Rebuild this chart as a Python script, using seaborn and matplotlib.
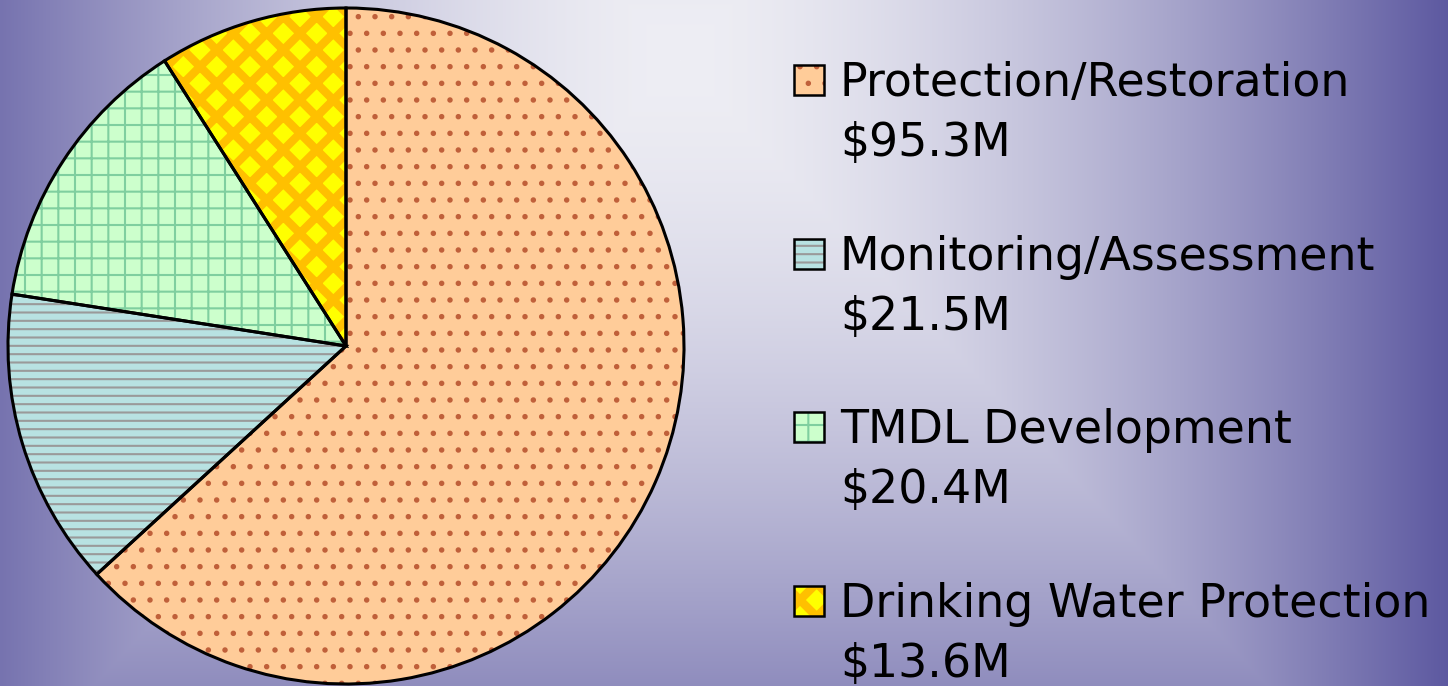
import numpy as np
import matplotlib
matplotlib.use('Agg')
import matplotlib.pyplot as plt
import seaborn as sns
from matplotlib.patches import Rectangle

# data
categories = ['Protection/Restoration', 'Monitoring/Assessment',
              'TMDL Development', 'Drinking Water Protection']
amounts = [95.3, 21.5, 20.4, 13.6]
amount_labels = ['$95.3M', '$21.5M', '$20.4M', '$13.6M']

# styling
fills = ['#ffcc99', '#b8e2e2', '#ccffcc', '#ffff00']
hatch_colors = ['#c0603a', '#9a9a9a', '#7fcf9f', '#ffc000']
hatches = ['.', '--', '+', 'x']

W, H = 1448, 686
sns.set_theme(style='white')
plt.rcParams['font.family'] = ['DejaVu Sans']
plt.rcParams['hatch.linewidth'] = 1.5

fig = plt.figure(figsize=(W / 100, H / 100), dpi=100)

# rectangular "from centre" background gradient
bg = fig.add_axes([0, 0, 1, 1])
bg.axis('off')
yy, xx = np.mgrid[0:H, 0:W]
t = np.maximum(np.abs(xx - 680) / 770, np.abs(yy - 60) / 820)
t = np.clip(t, 0, 1) ** 1.6
c0 = np.array([238, 238, 244]) / 255
c1 = np.array([92, 88, 160]) / 255
img = np.clip(c0 + (c1 - c0) * t[..., None], 0, 1)
bg.imshow(img, aspect='auto', extent=[0, W, H, 0], zorder=0)


def thick_checker(patch, h):
    if h == 'x' and hasattr(patch, 'set_hatch_linewidth'):
        patch.set_hatch_linewidth(6)


# pie
ax = fig.add_axes([8 / W, 2 / H, 676 / W, 676 / H])
wedges, _ = ax.pie(amounts, colors=fills, startangle=90, counterclock=False,
                   wedgeprops=dict(linewidth=0))
for w, hc, h in zip(wedges, hatch_colors, hatches):
    w.set_edgecolor(hc)
    w.set_hatch(h)
    w.set_clip_on(False)
    thick_checker(w, h)
outline, _ = ax.pie(amounts, startangle=90, counterclock=False,
                    wedgeprops=dict(fill=False, edgecolor='black', linewidth=2.2))
for w in outline:
    w.set_clip_on(False)
ax.set_xlim(-1, 1)
ax.set_ylim(-1, 1)
ax.set_aspect('equal')

# legend, drawn by hand so the box lines up with the first text line
for i, (cat, lab) in enumerate(zip(categories, amount_labels)):
    base = 96 + i * 173.7
    sq = Rectangle((794 / W, 1 - (base - 1) / H), 30 / W, 30 / H,
                   transform=fig.transFigure, facecolor=fills[i],
                   edgecolor=hatch_colors[i], hatch=hatches[i], linewidth=0)
    thick_checker(sq, hatches[i])
    fig.add_artist(sq)
    fig.add_artist(Rectangle((794 / W, 1 - (base - 1) / H), 30 / W, 30 / H,
                             transform=fig.transFigure, fill=False,
                             edgecolor='black', linewidth=1.8))
    fig.text(840 / W, 1 - base / H, cat, fontsize=33, va='baseline', color='black')
    fig.text(840 / W, 1 - (base + 60) / H, lab.replace('$', r'\$'),
             fontsize=33, va='baseline', color='black')

fig.savefig('out.png', dpi=100)
